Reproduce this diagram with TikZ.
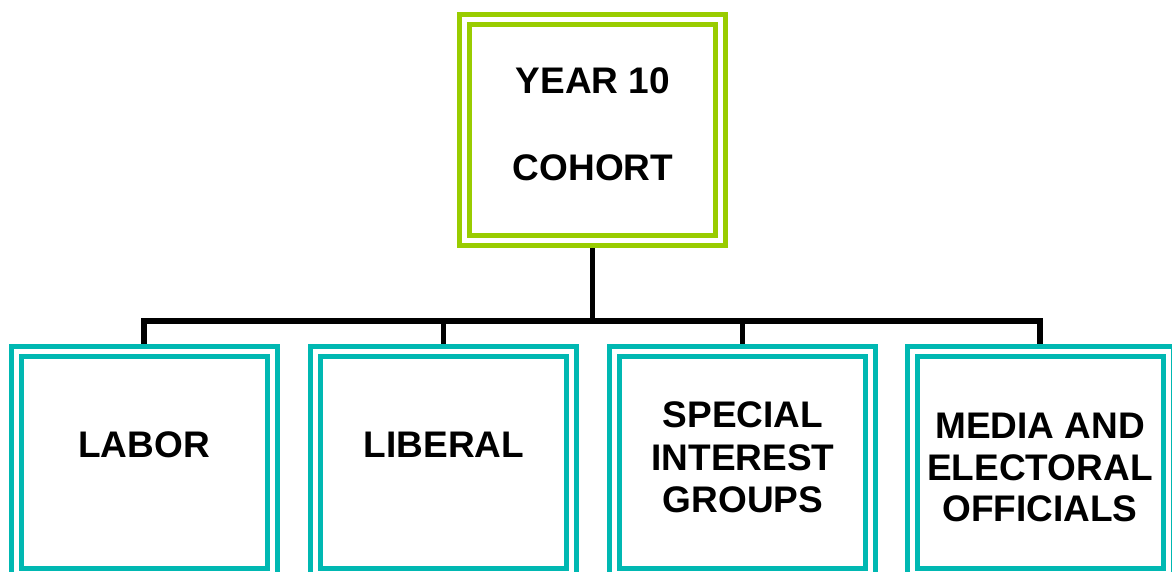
\documentclass[tikz,border=0pt]{standalone}
\usepackage{fontspec}
\setmainfont{Liberation Sans}
\usetikzlibrary{backgrounds}
\definecolor{limegreen}{RGB}{153,204,0}
\definecolor{tealbox}{RGB}{0,184,178}
\tikzset{
  dbox/.style={rectangle, draw=#1, double=white, line width=5pt, double distance=5pt,
    inner sep=0pt, outer sep=0pt, minimum width=256pt},
  topbox/.style={dbox=limegreen, minimum height=221pt},
  botbox/.style={dbox=tealbox, minimum height=222pt},
  lbl/.style={anchor=base, inner sep=0pt, font=\fontsize{37}{42.5}\selectfont\bfseries},
  conn/.style={draw=black, line width=5.5pt}
}
\begin{document}
\begin{tikzpicture}[x=1pt,y=-1pt]
\useasboundingbox (0,0) rectangle (1172,571);
\clip (0,0) rectangle (1172,571);
\node[topbox] (top) at (592.5,130) {};
\node[botbox] (b1) at (144,462) {};
\node[botbox] (b2) at (443.5,462) {};
\node[botbox] (b3) at (742.5,462) {};
\node[botbox] (b4) at (1040,462) {};
\coordinate (hub) at (592.5,321);
\begin{pgfonlayer}{background}
\draw[conn] (top.south) -- (hub);
\draw[conn] (b1.north) |- (b4.north |- hub) -- (b4.north);
\draw[conn] (b2.north) -- (b2.north |- hub);
\draw[conn] (b3.north) -- (b3.north |- hub);
\end{pgfonlayer}
\node[lbl] (t0a) at (593,93.3) {YEAR 10};
\node[lbl] (t0b) at (593,180) {COHORT};
\node[lbl] (t1) at (144,457) {LABOR};
\node[lbl] (t2) at (444,457) {LIBERAL};
\node[lbl] (t3a) at (743,427) {SPECIAL};
\node[lbl] (t3b) at (743,470.3) {INTEREST};
\node[lbl] (t3c) at (743,512.6) {GROUPS};
\node[lbl] (t4a) at (1040,438.5) {MEDIA AND};
\node[lbl] (t4b) at (1040,480) {ELECTORAL};
\node[lbl] (t4c) at (1040,521.7) {OFFICIALS};
\end{tikzpicture}
\end{document}
